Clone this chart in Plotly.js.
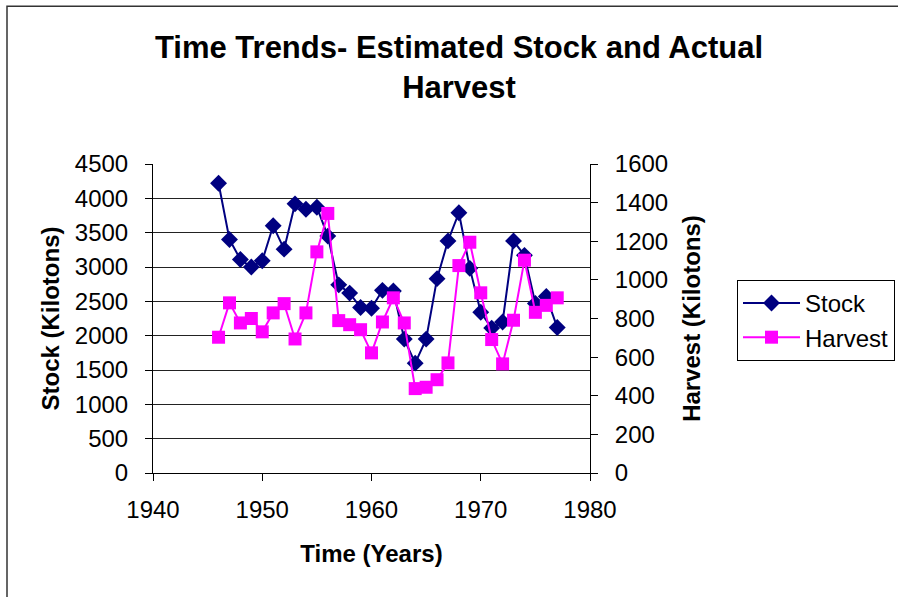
<!DOCTYPE html>
<html>
<head>
<meta charset="utf-8">
<script src="https://cdn.plot.ly/plotly-3.0.1.min.js"></script>
<style>
html,body{margin:0;padding:0;background:#fff;}
#chart{width:898px;height:597px;}
</style>
</head>
<body>
<div id="chart"></div>
<script>
const years = [1946,1947,1948,1949,1950,1951,1952,1953,1954,1955,1956,1957,1958,1959,1960,1961,1962,1963,1964,1965,1966,1967,1968,1969,1970,1971,1972,1973,1974,1975,1976,1977];
const stock = [4220,3400,3110,3000,3090,3600,3260,3920,3840,3870,3450,2740,2620,2410,2400,2660,2650,1950,1600,1950,2830,3380,3790,2980,2340,2110,2200,3380,3170,2470,2570,2120];
const harvest = [703,881,777,800,731,829,877,694,829,1145,1344,789,768,742,622,782,907,777,437,444,483,570,1074,1195,933,691,565,791,1102,832,868,907];
const xTicks = [1940,1950,1960,1970,1980];
const stockTicks = [0,500,1000,1500,2000,2500,3000,3500,4000,4500];
const harvestTicks = [0,200,400,600,800,1000,1200,1400,1600];

const FONT = 'Liberation Sans, Arial, sans-serif';

const traces = [
  {
    x: years, y: stock, name: 'Stock', type: 'scatter', mode: 'lines+markers',
    line: {color: '#000080', width: 2},
    marker: {symbol: 'diamond', size: 13, color: '#000080'},
    xaxis: 'x', yaxis: 'y'
  },
  {
    x: years, y: harvest, name: 'Harvest', type: 'scatter', mode: 'lines+markers',
    line: {color: '#FF00FF', width: 2},
    marker: {symbol: 'square', size: 13, color: '#FF00FF'},
    xaxis: 'x', yaxis: 'y2'
  }
];

const layout = {
  width: 898, height: 597,
  paper_bgcolor: '#fff', plot_bgcolor: '#fff',
  font: {family: FONT, color: '#000', size: 24},
  margin: {l: 153, r: 308, t: 164, b: 124, pad: 0, autoexpand: false},
  showlegend: true,
  title: {
    text: '<b>Time Trends- Estimated Stock and Actual<br>Harvest</b>',
    font: {family: FONT, size: 31, color: '#000'},
    x: 459/898, xanchor: 'center', xref: 'container',
    y: 1 - 58/597, yanchor: 'top', yref: 'container'
  },
  xaxis: {
    range: [1940, 1980], tickvals: xTicks, ticktext: xTicks.map(String),
    showline: true, linecolor: '#000', linewidth: 1,
    ticks: 'outside', ticklen: 7, tickcolor: '#000', tickwidth: 1,
    showgrid: false, zeroline: false,
    tickfont: {size: 24},
    ticklabelstandoff: 8,
    title: {text: '<b>Time (Years)</b>', font: {size: 24}, standoff: 23}
  },
  yaxis: {
    range: [0, 4500], tickvals: stockTicks, ticktext: stockTicks.map(String),
    showline: true, linecolor: '#000', linewidth: 1,
    ticks: 'outside', ticklen: 7, tickcolor: '#000', tickwidth: 1,
    showgrid: true, gridcolor: '#222', gridwidth: 1, zeroline: false,
    tickfont: {size: 24},
    ticklabelstandoff: 12,
    title: {text: '<b>Stock (Kilotons)</b>', font: {size: 24}, standoff: 8}
  },
  yaxis2: {
    range: [0, 1600], tickvals: harvestTicks, ticktext: harvestTicks.map(String),
    overlaying: 'y', side: 'right', anchor: 'x',
    showline: true, linecolor: '#000', linewidth: 1,
    ticks: 'outside', ticklen: 7, tickcolor: '#000', tickwidth: 1,
    showgrid: false, zeroline: false,
    tickfont: {size: 24},
    ticklabelstandoff: 12,
    title: {text: '<b>Harvest (Kilotons)</b>', font: {size: 24}, standoff: 16}
  },
  yaxis3: {
    range: [0, 1600], tickvals: harvestTicks,
    overlaying: 'y', side: 'right', anchor: 'x',
    showline: false, ticks: 'inside', ticklen: 7, tickcolor: '#000', tickwidth: 1,
    showticklabels: false, showgrid: false, zeroline: false
  },
  legend: {
    x: (737 - 153) / 437, xanchor: 'left',
    y: (473.3 - 280) / 309.3, yanchor: 'top',
    bordercolor: '#000', borderwidth: 1, bgcolor: '#fff',
    font: {size: 24, family: FONT},
    itemwidth: 57, tracegroupgap: 0
  },
  shapes: [
    {type: 'rect', xref: 'paper', yref: 'paper',
     x0: (7 - 153) / 437, x1: 3, y0: -1, y1: (473.3 - 6) / 309.3,
     line: {color: '#333', width: 1.5}, fillcolor: 'rgba(0,0,0,0)', layer: 'below'}
  ]
};

Plotly.newPlot('chart', traces, layout, {displayModeBar: false, staticPlot: true});
</script>
</body>
</html>
